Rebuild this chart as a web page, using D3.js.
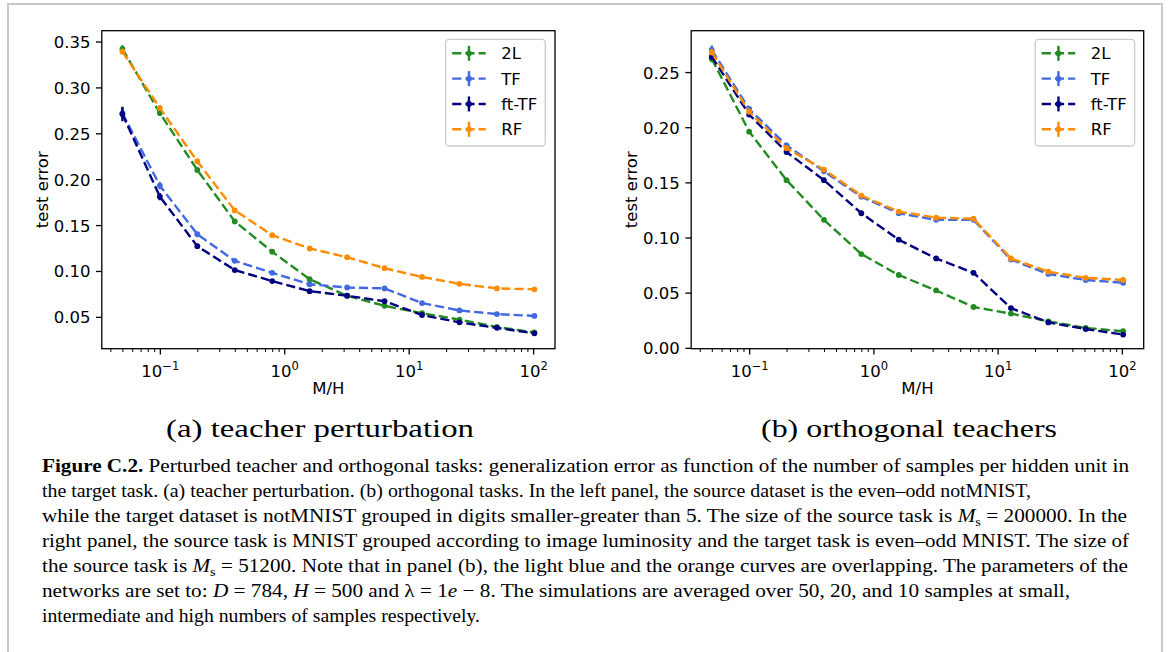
<!DOCTYPE html>
<html><head><meta charset="utf-8">
<script src="https://cdn.jsdelivr.net/npm/d3@7"></script>
<style>body{margin:0;background:#fff} svg{display:block}</style>
</head><body><svg id="c" width="1170" height="652"></svg>
<script>
// ---------- DATA ----------
const samplesPerHidden = [0.05, 0.1, 0.2, 0.4, 0.8, 1.6, 3.2, 6.4, 12.8, 25.6, 51.2, 102.4];
const seriesNames = ["2L", "TF", "ft-TF", "RF"];
const seriesColors = ["#228b22", "#4169e1", "#000080", "#ff8c00"];

// panel (a) teacher perturbation
const a_2L  = [0.342, 0.272, 0.210, 0.154, 0.121, 0.091, 0.073, 0.062, 0.054, 0.047, 0.039, 0.033];
const a_TF  = [0.272, 0.193, 0.140, 0.111, 0.098, 0.0855, 0.082, 0.081, 0.065, 0.057, 0.053, 0.051];
const a_ft  = [0.271, 0.181, 0.127, 0.101, 0.089, 0.078, 0.073, 0.067, 0.052, 0.044, 0.038, 0.032];
const a_RF  = [0.339, 0.2775, 0.2195, 0.166, 0.139, 0.1245, 0.115, 0.103, 0.0935, 0.086, 0.081, 0.080];
const a_2L_err = [0.004, 0.003, 0.002, 0.002, 0.0015, 0.0015, 0.001, 0.001, 0.001, 0.001, 0.001, 0.001];
const a_TF_err = [0.006, 0.004, 0.002, 0.002, 0.0015, 0.0015, 0.001, 0.001, 0.001, 0.001, 0.001, 0.001];
const a_ft_err = [0.008, 0.004, 0.002, 0.002, 0.0015, 0.0015, 0.001, 0.001, 0.001, 0.001, 0.001, 0.001];
const a_RF_err = [0.003, 0.003, 0.003, 0.002, 0.0015, 0.001, 0.001, 0.001, 0.001, 0.001, 0.001, 0.001];

// panel (b) orthogonal teachers
const b_2L  = [0.262, 0.196, 0.152, 0.116, 0.085, 0.066, 0.052, 0.037, 0.031, 0.024, 0.018, 0.015];
const b_TF  = [0.270, 0.2165, 0.1835, 0.160, 0.137, 0.122, 0.116, 0.116, 0.080, 0.067, 0.0615, 0.059];
const b_ft  = [0.264, 0.2115, 0.1775, 0.152, 0.122, 0.098, 0.081, 0.068, 0.036, 0.023, 0.017, 0.012];
const b_RF  = [0.268, 0.214, 0.181, 0.1615, 0.138, 0.1235, 0.118, 0.117, 0.081, 0.069, 0.0635, 0.0615];
const b_2L_err = [0.003, 0.002, 0.0015, 0.001, 0.001, 0.001, 0.001, 0.001, 0.001, 0.001, 0.001, 0.001];
const b_TF_err = [0.004, 0.002, 0.0015, 0.001, 0.001, 0.001, 0.001, 0.001, 0.001, 0.001, 0.001, 0.001];
const b_ft_err = [0.003, 0.002, 0.0015, 0.001, 0.001, 0.001, 0.001, 0.001, 0.001, 0.001, 0.001, 0.001];
const b_RF_err = [0.003, 0.002, 0.0015, 0.001, 0.001, 0.001, 0.001, 0.001, 0.001, 0.001, 0.001, 0.001];

const xMajorTicks = [0.1, 1, 10, 100];
const xMajorExp = ["\u22121", "0", "1", "2"];
const a_yTicks = [0.05, 0.10, 0.15, 0.20, 0.25, 0.30, 0.35];
const b_yTicks = [0.00, 0.05, 0.10, 0.15, 0.20, 0.25];
const xLabel = "M/H";
const yLabel = "test error";
const subCaptions = ["(a) teacher perturbation", "(b) orthogonal teachers"];

const captionLines = [
  [{t:"Figure C.2.", b:1}, {t:" Perturbed teacher and orthogonal tasks: generalization error as function of the number of samples per hidden unit in"}],
  [{t:"the target task. (a) teacher perturbation. (b) orthogonal tasks. In the left panel, the source dataset is the even\u2013odd notMNIST,"}],
  [{t:"while the target dataset is notMNIST grouped in digits smaller-greater than 5. The size of the source task is "}, {t:"M", i:1}, {t:"s", sub:1}, {t:" = 200000. In the"}],
  [{t:"right panel, the source task is MNIST grouped according to image luminosity and the target task is even\u2013odd MNIST. The size of"}],
  [{t:"the source task is "}, {t:"M", i:1}, {t:"s", sub:1}, {t:" = 51200. Note that in panel (b), the light blue and the orange curves are overlapping. The parameters of the"}],
  [{t:"networks are set to: "}, {t:"D", i:1}, {t:" = 784, "}, {t:"H", i:1}, {t:" = 500 and \u03bb = 1"}, {t:"e", i:1}, {t:" \u2212 8. The simulations are averaged over 50, 20, and 10 samples at small,"}],
  [{t:"intermediate and high numbers of samples respectively."}]
];
const captionEnds = [1129, 1031, 1127, 1129, 1128, 1070, 480];

// ---------- DRAW ----------
const svg = d3.select("#c");
const FS = 16.5;
const FONT = "'DejaVu Sans', sans-serif";

// outer border
svg.append("path").attr("d", "M8,660 L8,4 L1162,4 L1162,660")
  .attr("fill", "none").attr("stroke", "#c8c8c8").attr("stroke-width", 2);

const xDomain = [Math.pow(10, -1.4666), Math.pow(10, 2.1759)];
const minorTicks = [];
[-2, -1, 0, 1, 2].forEach(d => { for (let k = 2; k <= 9; k++) { const v = k * Math.pow(10, d); if (v >= xDomain[0] && v <= xDomain[1]) minorTicks.push(v); } });

function drawPanel(cfg) {
  const g = svg.append("g");
  const x = d3.scaleLog().domain(xDomain).range([cfg.x0, cfg.x1]);
  const y = d3.scaleLinear().domain(cfg.yDomain).range([cfg.y1, cfg.y0]);

  const clipId = "clip" + cfg.id;
  svg.append("clipPath").attr("id", clipId).append("rect")
    .attr("x", cfg.x0).attr("y", cfg.y0).attr("width", cfg.x1 - cfg.x0).attr("height", cfg.y1 - cfg.y0);
  const plot = g.append("g").attr("clip-path", `url(#${clipId})`);

  cfg.series.forEach((vals, i) => {
    const col = seriesColors[i];
    const pts = samplesPerHidden.map((m, j) => ({m, v: vals[j], e: cfg.errors[i][j]}));
    plot.append("path").datum(pts)
      .attr("d", d3.line().x(d => x(d.m)).y(d => y(d.v)))
      .attr("fill", "none").attr("stroke", col).attr("stroke-width", 2.4)
      .attr("stroke-dasharray", "9.2,4");
    plot.selectAll(null).data(pts).enter().append("line")
      .attr("x1", d => x(d.m)).attr("x2", d => x(d.m))
      .attr("y1", d => y(d.v - d.e)).attr("y2", d => y(d.v + d.e))
      .attr("stroke", col).attr("stroke-width", 2.4);
    plot.selectAll(null).data(pts).enter().append("circle")
      .attr("cx", d => x(d.m)).attr("cy", d => y(d.v)).attr("r", 2.9).attr("fill", col);
  });

  // x axis minor
  const axB = g.append("g").attr("transform", `translate(0,${cfg.y1})`);
  axB.call(d3.axisBottom(x).tickValues(minorTicks).tickSize(3.3).tickFormat(() => "").tickSizeOuter(0));
  axB.select(".domain").remove();
  axB.selectAll(".tick line").attr("stroke-width", 1.0);
  const axM = g.append("g").attr("transform", `translate(0,${cfg.y1})`);
  axM.call(d3.axisBottom(x).tickValues(xMajorTicks).tickSize(5.8).tickFormat(() => "").tickSizeOuter(0));
  axM.select(".domain").remove();
  axM.selectAll(".tick line").attr("stroke-width", 1.3);
  axM.selectAll(".tick text").remove();
  axM.selectAll(".tick").each(function(d, i) {
    const t = d3.select(this).append("text").attr("y", 28.3).attr("text-anchor", "middle")
      .attr("fill", "#000").style("font-family", FONT).style("font-size", FS + "px");
    t.append("tspan").text("10");
    t.append("tspan").attr("dy", -7).style("font-size", (FS * 0.7) + "px").text(xMajorExp[i]);
  });

  // y axis
  const axL = g.append("g").attr("transform", `translate(${cfg.x0},0)`);
  axL.call(d3.axisLeft(y).tickValues(cfg.yTicks).tickSize(5.8).tickPadding(5.6).tickFormat(d3.format(".2f")).tickSizeOuter(0));
  axL.select(".domain").remove();
  axL.selectAll(".tick line").attr("stroke-width", 1.3);
  axL.selectAll(".tick text").style("font-family", FONT).style("font-size", FS + "px").attr("fill", "#000").attr("dy", "0.36em");

  // spines
  g.append("rect").attr("x", cfg.x0).attr("y", cfg.y0).attr("width", cfg.x1 - cfg.x0).attr("height", cfg.y1 - cfg.y0)
    .attr("fill", "none").attr("stroke", "#000").attr("stroke-width", 1.3);

  // labels
  g.append("text").attr("x", (cfg.x0 + cfg.x1) / 2).attr("y", cfg.y1 + 45.5).attr("text-anchor", "middle")
    .style("font-family", FONT).style("font-size", FS + "px").text(xLabel);
  g.append("text").attr("transform", `translate(${cfg.ylx},${(cfg.y0 + cfg.y1) / 2}) rotate(-90)`)
    .attr("text-anchor", "middle").attr("dy", "0.36em")
    .style("font-family", FONT).style("font-size", FS + "px").text(yLabel);

  // legend
  const L = cfg.legend;
  g.append("rect").attr("x", L.x).attr("y", L.y).attr("width", L.w).attr("height", L.h).attr("rx", 3.5)
    .attr("fill", "#fff").attr("fill-opacity", 0.8).attr("stroke", "#cccccc").attr("stroke-width", 1.3);
  seriesNames.forEach((name, i) => {
    const cy = L.y + 14 + i * 25.33;
    const col = seriesColors[i];
    const lx0 = L.x + 6.5, lx1 = L.x + 40, cx = (lx0 + lx1) / 2;
    g.append("line").attr("x1", lx0).attr("x2", lx1).attr("y1", cy).attr("y2", cy)
      .attr("stroke", col).attr("stroke-width", 2.4).attr("stroke-dasharray", "9.2,4");
    g.append("line").attr("x1", cx).attr("x2", cx).attr("y1", cy - 7.5).attr("y2", cy + 7.5)
      .attr("stroke", col).attr("stroke-width", 2.4);
    g.append("circle").attr("cx", cx).attr("cy", cy).attr("r", 2.9).attr("fill", col);
    g.append("text").attr("x", L.x + 55.5).attr("y", cy).attr("dy", "0.36em")
      .style("font-family", FONT).style("font-size", FS + "px").text(name);
  });
}

drawPanel({
  id: "a", x0: 101.8, x1: 555, y0: 30.7, y1: 348.7, yDomain: [0.0153, 0.3618], yTicks: a_yTicks, ylx: 42,
  series: [a_2L, a_TF, a_ft, a_RF], errors: [a_2L_err, a_TF_err, a_ft_err, a_RF_err],
  legend: {x: 445.7, y: 39.3, w: 99.6, h: 106.7}
});
drawPanel({
  id: "b", x0: 691.2, x1: 1143.7, y0: 30.7, y1: 348.7, yDomain: [-0.0008, 0.2875], yTicks: b_yTicks, ylx: 631,
  series: [b_2L, b_TF, b_ft, b_RF], errors: [b_2L_err, b_TF_err, b_ft_err, b_RF_err],
  legend: {x: 1035.2, y: 39.3, w: 99.4, h: 106.7}
});

// sub captions
const subPos = [{x: 166, w: 308}, {x: 761, w: 296}];
subCaptions.forEach((s, i) => {
  svg.append("text").attr("x", subPos[i].x).attr("y", 437)
    .attr("textLength", subPos[i].w).attr("lengthAdjust", "spacingAndGlyphs")
    .style("font-family", "'Liberation Serif', serif").style("font-size", "25px").text(s);
});

// caption (justified lines: each line fitted to its measured width)
const CAPX = 42;
const capFS = 19.5;
captionLines.forEach((ln, k) => {
  const t = svg.append("text").attr("x", CAPX).attr("y", 472 + k * 25)
    .style("font-family", "'Liberation Serif', serif").style("font-size", capFS + "px")
    .attr("textLength", captionEnds[k] - CAPX).attr("lengthAdjust", "spacingAndGlyphs");
  let pendingDy = 0;
  ln.forEach(seg => {
    const sp = t.append("tspan").text(seg.t);
    if (seg.b) sp.style("font-weight", "bold");
    if (seg.i) sp.style("font-style", "italic");
    if (seg.sub) { sp.attr("dy", 4).style("font-size", (capFS * 0.68) + "px"); pendingDy = -4; }
    else if (pendingDy) { sp.attr("dy", pendingDy); pendingDy = 0; }
  });
});
</script></body></html>
